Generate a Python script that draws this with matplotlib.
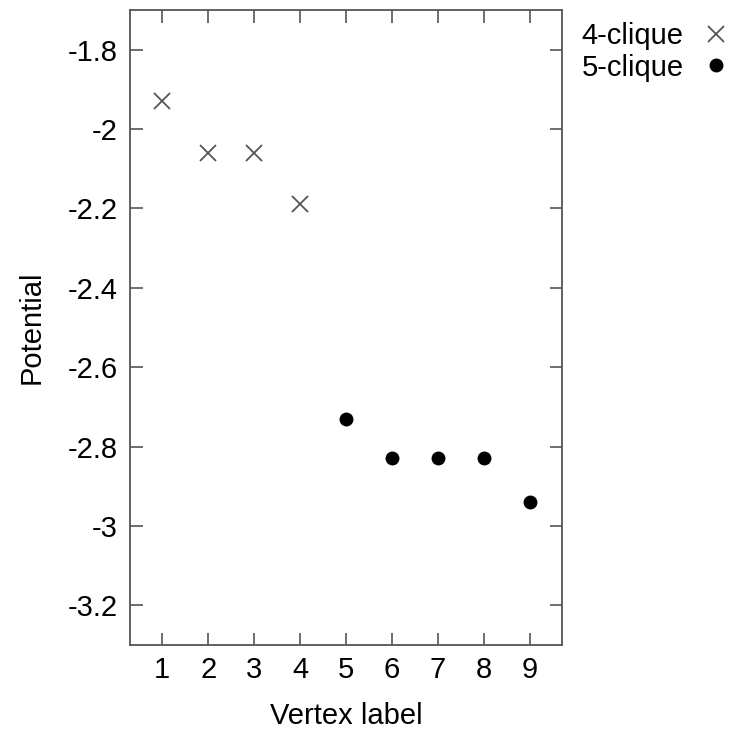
import matplotlib
matplotlib.use("Agg")
import matplotlib.pyplot as plt

# vertex labels and potentials
vertex4 = [1, 2, 3, 4]
potential4 = [-1.93, -2.06, -2.06, -2.19]
vertex5 = [5, 6, 7, 8, 9]
potential5 = [-2.73, -2.83, -2.83, -2.83, -2.94]

yticks = [-3.2, -3, -2.8, -2.6, -2.4, -2.2, -2, -1.8]
yticklabels = ["-3.2", "-3", "-2.8", "-2.6", "-2.4", "-2.2", "-2", "-1.8"]

plt.rcParams['font.family'] = ['Liberation Sans', 'DejaVu Sans']
fs = 21

fig = plt.figure(figsize=(7.35, 7.3), dpi=100)
ax = fig.add_axes([0.1769, 0.1164, 0.5877, 0.8699])

ax.plot(vertex4, potential4, linestyle='none', marker='x', markersize=12,
        markeredgewidth=1.3, color='#555555', label='4-clique')
ax.plot(vertex5, potential5, linestyle='none', marker='o', markersize=9,
        color='black', label='5-clique')

ax.set_xlim(0.3, 9.7)
ax.set_ylim(-3.3, -1.7)
ax.set_xticks(range(1, 10))
ax.set_yticks(yticks)
ax.set_yticklabels(yticklabels)
ax.tick_params(direction='in', length=9, width=1.2, color='#555555',
               top=True, right=True, labelsize=fs)
ax.tick_params(axis='x', pad=8)
ax.tick_params(axis='y', pad=9)
for s in ax.spines.values():
    s.set_color('#555555')
    s.set_linewidth(1.3)

ax.set_xlabel('Vertex label', fontsize=fs, labelpad=13)
ax.set_ylabel('Potential', fontsize=fs, labelpad=16)

ax.legend(loc='upper left', bbox_to_anchor=(1.032, 0.99), markerfirst=False,
          frameon=False, fontsize=fs, handlelength=0.9, handletextpad=0.67,
          labelspacing=0.12, borderaxespad=0.0, borderpad=0.2)

fig.savefig('out.png', dpi=100)
